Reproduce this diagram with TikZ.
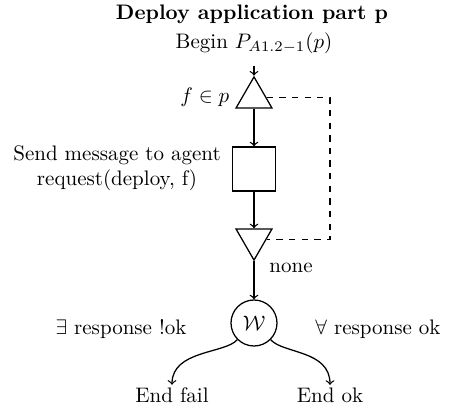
\documentclass[tikz,border=0pt]{standalone}
\usetikzlibrary{shapes.geometric}
\begin{document}
\begin{tikzpicture}[x=0.476pt,y=-0.476pt,
  line width=0.6pt,
  gate/.style={draw, regular polygon, regular polygon sides=3, minimum size=41.6*0.476pt, inner sep=0pt},
  actbox/.style={draw, minimum width=43*0.476pt, minimum height=44*0.476pt, inner sep=0pt},
  waitnode/.style={draw, circle, minimum size=46*0.476pt, inner sep=0pt},
  lbl/.style={inner sep=1pt, align=center},
  flow/.style={->},
  loop/.style={dashed}
]
\useasboundingbox (0,0) rectangle (452,405);

% title and entry
\node[lbl] (title) at (252,14) {\textbf{Deploy application part p}};
\node[lbl] (begin) at (254,43) {Begin $P_{A1.2-1}(p)$};

% loop head, action, loop tail
\node[gate] (t1) at (254,97.7) {};
\node[lbl, anchor=east] (t1lbl) at (232,97) {$f \in p$};
\node[actbox] (act) at (254,169) {};
\node[lbl] (actlbl) at (117,168) {Send message to agent\\request(deploy, f)};
\node[gate, shape border rotate=180] (t2) at (254,239.3) {};
\node[lbl] (none) at (291,268) {none};

% wait node and outcomes
\node[waitnode] (w) at (254,323) {$\mathcal{W}$};
\node[lbl] (fail) at (172,395) {End fail};
\node[lbl] (ok) at (330,395) {End ok};
\node[lbl] (faillbl) at (121,329) {$\exists$ response !ok};
\node[lbl] (oklbl) at (378,329) {$\forall$ response ok};

\coordinate (loopc) at (330,97.7);

% connectors
\draw[flow, shorten <=4.5pt] (begin) -- (t1.corner 1);
\draw[flow] (t1.side 2) -- (act);
\draw[flow] (act) -- (t2.side 2);
\draw[flow] (t2.corner 1) -- (w);
\draw[loop] (t1) -- (loopc) |- (t2);
\draw[flow] (w.225) .. controls +(-12,14) and (172,350) .. (fail.north);
\draw[flow] (w.315) .. controls +(12,14) and (330,350) .. (ok.north);
\end{tikzpicture}
\end{document}
